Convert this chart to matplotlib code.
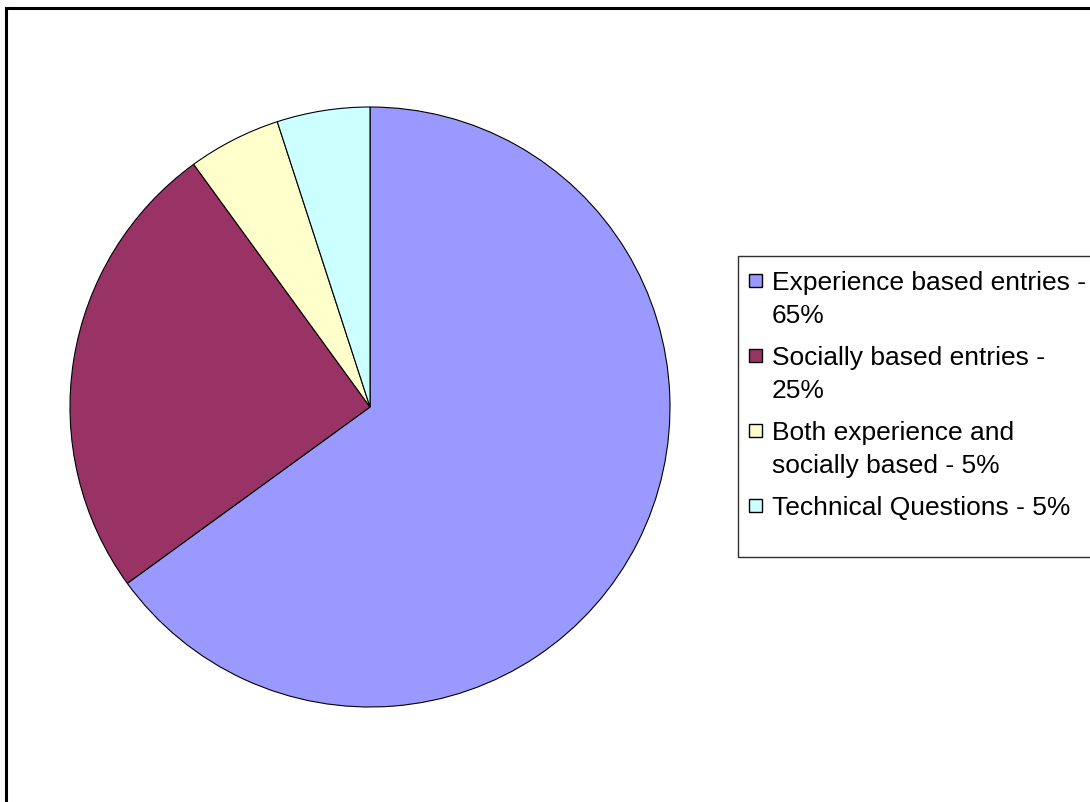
import matplotlib.pyplot as plt
from matplotlib.patches import Rectangle
from matplotlib.lines import Line2D

plt.rcParams['font.family'] = ['Liberation Sans', 'DejaVu Sans']

labels = ["Experience based entries -\n65%",
          "Socially based entries -\n25%",
          "Both experience and\nsocially based - 5%",
          "Technical Questions - 5%"]
shares = [65, 25, 5, 5]
colors = ["#9999FF", "#993366", "#FFFFCC", "#CCFFFF"]

W, H = 1090, 803
fig = plt.figure(figsize=(W / 100, H / 100), dpi=100)


def fx(px):
    return px / W


def fy(py):
    return 1 - py / H


# pie: centre (370, 408), radius 300 px
ax = fig.add_axes([fx(70), fy(708), 600 / W, 600 / H])
ax.pie(shares, colors=colors, startangle=90, counterclock=False,
       wedgeprops=dict(edgecolor="black", linewidth=0.8))
ax.set_xlim(-1, 1)
ax.set_ylim(-1, 1)
ax.set_aspect("equal")
ax.axis("off")

# chart frame (only top and left edges are visible)
fig.add_artist(Line2D([fx(6), fx(W + 5)], [fy(9), fy(9)], color="black", lw=2.2))
fig.add_artist(Line2D([fx(6), fx(6)], [fy(9), fy(H + 5)], color="black", lw=2.2))

# legend box
fig.add_artist(Rectangle((fx(738), fy(558)), fx(380), (558 - 257) / H,
                         transform=fig.transFigure, facecolor="white",
                         edgecolor="#303030", linewidth=1.0))

baseline = 290
for lab, col in zip(labels, colors):
    fig.add_artist(Rectangle((fx(749), fy(baseline - 2)), fx(13), 13 / H,
                             transform=fig.transFigure, facecolor=col,
                             edgecolor="black", linewidth=1.0))
    lines = lab.split("\n")
    for i, line in enumerate(lines):
        fig.text(fx(772), fy(baseline + 33 * i), line, fontsize=19,
                 va="baseline", ha="left", color="black")
    baseline += 75

fig.savefig("out.png", dpi=100)
